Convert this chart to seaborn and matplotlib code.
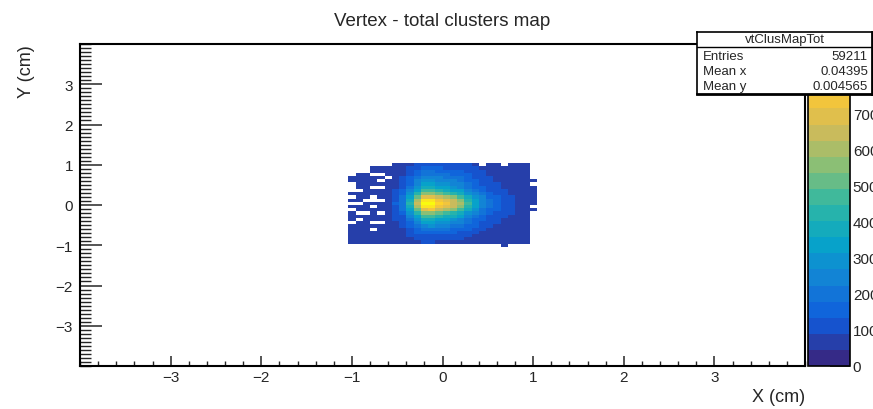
import numpy as np
import pandas as pd
import matplotlib
matplotlib.use("Agg")
import matplotlib.pyplot as plt
from matplotlib.colors import LinearSegmentedColormap, ListedColormap
from matplotlib.ticker import MultipleLocator
import seaborn as sns

# bin centres (cm) of the filled part of the 100 x 100 bin map (-4..4 cm)
x_centers = [-1.00, -0.92, -0.84, -0.76, -0.68, -0.60, -0.52, -0.44, -0.36,
             -0.28, -0.20, -0.12, -0.04, 0.04, 0.12, 0.20, 0.28, 0.36, 0.44,
             0.52, 0.60, 0.68, 0.76, 0.84, 0.92, 1.00]
y_centers = [1.00, 0.92, 0.84, 0.76, 0.68, 0.60, 0.52, 0.44, 0.36, 0.28,
             0.20, 0.12, 0.04, -0.04, -0.12, -0.20, -0.28, -0.36, -0.44,
             -0.52, -0.60, -0.68, -0.76, -0.84, -0.92, -1.00]

# counts per bin, one row per y_centers entry (top to bottom)
counts = [
    [0, 0, 0, 0, 0, 0, 66, 72, 88, 107, 124, 125, 118, 113, 108, 102, 92, 83, 0, 71, 68, 0, 64, 62, 61, 0],
    [0, 0, 0, 58, 62, 57, 68, 77, 98, 124, 147, 150, 140, 133, 127, 118, 103, 91, 83, 75, 70, 67, 65, 63, 62, 0],
    [0, 0, 0, 60, 55, 63, 71, 83, 112, 148, 179, 182, 169, 160, 151, 139, 119, 103, 91, 80, 74, 70, 67, 64, 62, 0],
    [0, 57, 61, 0, 0, 59, 74, 89, 126, 171, 211, 215, 198, 186, 175, 160, 135, 114, 99, 86, 78, 72, 69, 65, 63, 0],
    [56, 60, 58, 62, 57, 0, 77, 96, 139, 195, 243, 247, 227, 213, 199, 181, 151, 126, 107, 91, 82, 75, 70, 66, 63, 0],
    [59, 63, 57, 61, 0, 58, 81, 103, 157, 224, 283, 288, 263, 246, 229, 207, 171, 140, 117, 98, 87, 78, 73, 67, 64, 57],
    [0, 58, 62, 60, 56, 61, 85, 111, 174, 253, 322, 329, 299, 279, 260, 233, 190, 154, 128, 105, 91, 81, 75, 68, 65, 0],
    [0, 61, 57, 0, 0, 60, 89, 120, 195, 288, 370, 378, 343, 319, 296, 265, 214, 171, 140, 113, 97, 85, 78, 70, 66, 58],
    [0, 0, 59, 63, 58, 62, 97, 136, 229, 347, 450, 459, 415, 386, 356, 317, 254, 200, 160, 126, 107, 92, 82, 72, 67, 56],
    [57, 62, 60, 58, 61, 59, 107, 158, 277, 429, 561, 573, 517, 479, 441, 391, 309, 240, 189, 145, 120, 101, 88, 76, 69, 59],
    [0, 60, 56, 0, 62, 58, 120, 184, 336, 528, 696, 712, 640, 592, 544, 480, 376, 288, 224, 168, 136, 112, 96, 80, 72, 57],
    [61, 58, 0, 0, 0, 60, 131, 206, 384, 610, 807, 826, 742, 685, 629, 554, 431, 328, 253, 187, 149, 121, 102, 84, 74, 60],
    [0, 0, 58, 62, 57, 61, 135, 215, 405, 645, 855, 875, 785, 725, 665, 585, 455, 345, 265, 195, 155, 125, 105, 85, 75, 58],
    [59, 62, 57, 0, 60, 58, 128, 210, 380, 615, 812, 820, 738, 690, 625, 550, 436, 325, 250, 190, 146, 124, 100, 86, 73, 0],
    [0, 61, 59, 57, 62, 60, 118, 188, 332, 532, 690, 716, 636, 596, 540, 484, 372, 292, 220, 170, 134, 114, 94, 82, 70, 56],
    [60, 0, 0, 58, 0, 61, 104, 162, 272, 425, 566, 570, 520, 475, 444, 388, 312, 236, 192, 142, 122, 98, 90, 74, 70, 0],
    [58, 62, 57, 61, 59, 60, 99, 133, 232, 343, 455, 454, 418, 382, 359, 314, 257, 197, 163, 124, 109, 90, 84, 70, 68, 0],
    [61, 0, 58, 60, 57, 62, 91, 118, 198, 284, 374, 375, 346, 316, 299, 262, 217, 168, 142, 111, 99, 83, 79, 69, 67, 0],
    [0, 59, 63, 0, 0, 58, 84, 110, 170, 247, 314, 321, 292, 273, 254, 228, 186, 151, 126, 103, 90, 81, 74, 68, 65, 0],
    [57, 61, 59, 62, 58, 60, 80, 100, 150, 212, 267, 272, 249, 233, 217, 197, 163, 134, 113, 95, 85, 77, 72, 67, 64, 0],
    [62, 58, 60, 0, 57, 61, 74, 89, 126, 171, 211, 215, 198, 186, 175, 160, 135, 114, 99, 86, 78, 72, 69, 65, 63, 0],
    [59, 61, 57, 60, 62, 58, 70, 80, 105, 136, 163, 166, 154, 146, 139, 128, 111, 97, 87, 78, 72, 68, 66, 63, 62, 0],
    [60, 57, 62, 58, 61, 59, 67, 74, 91, 113, 132, 133, 125, 120, 114, 107, 96, 86, 78, 72, 69, 66, 64, 62, 61, 0],
    [58, 62, 59, 61, 57, 60, 65, 69, 81, 95, 108, 109, 104, 100, 96, 92, 84, 77, 72, 68, 66, 64, 63, 62, 61, 0],
    [61, 59, 58, 62, 60, 57, 63, 66, 74, 83, 92, 93, 89, 87, 84, 81, 76, 71, 68, 65, 64, 63, 62, 61, 61, 0],
    [0, 0, 0, 0, 0, 0, 0, 0, 0, 0, 0, 0, 0, 0, 0, 0, 0, 0, 0, 0, 0, 58, 0, 0, 0, 0],
]

hist_name = "vtClusMapTot"
stats_labels = ["Entries", "Mean x", "Mean y"]
stats_values = ["59211", "0.04395", "0.004565"]
z_max = 892
cbar_ticks = [0, 100, 200, 300, 400, 500, 600, 700]

# long form table for seaborn
recs = []
for yv, row in zip(y_centers, counts):
    for xv, w in zip(x_centers, row):
        if w > 0:
            recs.append((xv, yv, w))
df = pd.DataFrame(recs, columns=["x", "y", "w"])

# ROOT kBird palette, 20 contour levels
stops = [0.0, 0.125, 0.25, 0.375, 0.5, 0.625, 0.75, 0.875, 1.0]
red = [0.2082, 0.0592, 0.0780, 0.0232, 0.1802, 0.5301, 0.8186, 0.9956, 0.9764]
green = [0.1664, 0.3599, 0.5041, 0.6419, 0.7178, 0.7492, 0.7328, 0.7862, 0.9832]
blue = [0.5293, 0.8684, 0.8385, 0.7914, 0.6425, 0.4662, 0.3499, 0.1968, 0.0539]
bird = LinearSegmentedColormap.from_list("bird", list(zip(stops, zip(red, green, blue))))
bird20 = ListedColormap(bird(np.linspace(0, 1, 20)))

sns.set_style("white")
plt.rcParams["font.family"] = ["Liberation Sans", "DejaVu Sans"]

W, H = 873, 410
fig = plt.figure(figsize=(W / 100, H / 100), dpi=100)
ax = fig.add_axes([80 / W, 43 / H, 725 / W, 322 / H])
cax = fig.add_axes([808 / W, 43 / H, 42 / W, 322 / H])

sns.histplot(data=df, x="x", y="y", weights="w", bins=100,
             binrange=((-4, 4), (-4, 4)), cmap=bird20, vmin=0, vmax=z_max,
             cbar=True, cbar_ax=cax, ax=ax)

ax.set_xlim(-4, 4)
ax.set_ylim(-4, 4)
for s in ax.spines.values():
    s.set_color("black")
    s.set_linewidth(1.5)
ax.set_xticks(range(-3, 4))
ax.set_yticks(range(-3, 4))
ax.xaxis.set_minor_locator(MultipleLocator(0.2))
ax.yaxis.set_minor_locator(MultipleLocator(0.1))
ax.tick_params(axis="x", which="major", direction="in", length=7.2, width=1.1,
               bottom=True, top=False, labelsize=11, pad=3)
ax.tick_params(axis="x", which="minor", direction="in", length=3.6, width=1.0,
               bottom=True, top=False)
ax.tick_params(axis="y", which="major", direction="in", length=15.8, width=1.1,
               left=True, right=False, labelsize=11, pad=5)
ax.tick_params(axis="y", which="minor", direction="in", length=7.9, width=1.0,
               left=True, right=False)

ax.set_xlabel("X (cm)", fontsize=13, loc="right")
ax.set_ylabel("Y (cm)", fontsize=13, loc="top")
ax.xaxis.set_label_coords(1.0, -0.068)
ax.yaxis.set_label_coords(-0.062, 1.0)
ax.set_title("Vertex - total clusters map", fontsize=13.5, pad=14)

cax.set_yticks(cbar_ticks)
cax.yaxis.set_ticks_position("right")
cax.tick_params(axis="y", direction="in", length=14.4, width=1.1,
                labelsize=11, pad=2)
cax.minorticks_off()
cbar = ax.collections[0].colorbar
if cbar is not None:
    cbar.outline.set_linewidth(1.2)
    cbar.outline.set_edgecolor("black")

# statistics box
sax = fig.add_axes([697 / W, (H - 95) / H, 175 / W, 62 / H])
sax.set_xlim(0, 1)
sax.set_ylim(0, 1)
sax.set_xticks([])
sax.set_yticks([])
sax.set_facecolor("white")
for side, s in sax.spines.items():
    s.set_color("black")
    s.set_linewidth(2.0 if side in ("right", "bottom") else 1.2)
sax.axhline(0.763, color="black", lw=1.0)
sax.text(0.5, 0.885, hist_name, ha="center", va="center", fontsize=9.5)
for yy, lab, val in zip([0.613, 0.371, 0.129], stats_labels, stats_values):
    sax.text(0.034, yy, lab, ha="left", va="center", fontsize=9.5)
    sax.text(0.977, yy, val, ha="right", va="center", fontsize=9.5)

fig.savefig("out.png", dpi=100)
